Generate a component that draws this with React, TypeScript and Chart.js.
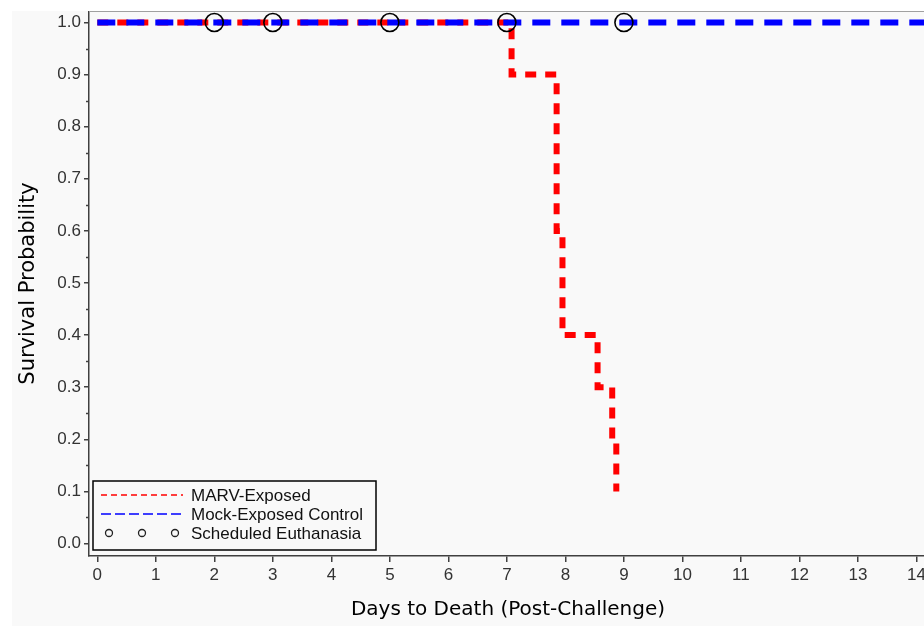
import React, { useEffect, useRef } from "react";
import { Chart, registerables } from "chart.js";

Chart.register(...registerables);

// Kaplan-Meier survival data
const marvDays = [0, 7.08, 7.85, 7.95, 8.55, 8.8, 8.87];
const marvSurvival = [1.0, 0.9, 0.6, 0.4, 0.3, 0.2, 0.1];
const mockDays = [0, 15];
const mockSurvival = [1.0, 1.0];
const euthanasiaDays = [2, 3, 5, 7, 9];
const euthanasiaSurvival = [1.0, 1.0, 1.0, 1.0, 1.0];

const seriesLabels = ["MARV-Exposed", "Mock-Exposed Control", "Scheduled Euthanasia"];
const dayTicks = [0, 1, 2, 3, 4, 5, 6, 7, 8, 9, 10, 11, 12, 13, 14];
const survivalTicks = [0.0, 0.1, 0.2, 0.3, 0.4, 0.5, 0.6, 0.7, 0.8, 0.9, 1.0];
const survivalMinorTicks = [0.05, 0.15, 0.25, 0.35, 0.45, 0.55, 0.65, 0.75, 0.85, 0.95];

const xTitle = "Days to Death (Post-Challenge)";
const yTitle = "Survival Probability";

const RED = "#ff0000";
const BLUE = "#0000ff";
const AXIS = "#404040";
const TICK_TEXT = "#333333";
const SANS = '"Liberation Sans", Arial, sans-serif';
const TITLE_FONT = '"DejaVu Sans", "Liberation Sans", sans-serif';

// Top frame line and minor ticks on the survival axis
const framePlugin = {
  id: "kmFrame",
  afterDraw(chart: any) {
    const { ctx, chartArea, scales } = chart;
    ctx.save();
    ctx.setLineDash([]);
    ctx.strokeStyle = "#a0a0a0";
    ctx.lineWidth = 1;
    ctx.beginPath();
    ctx.moveTo(chartArea.left, chartArea.top + 0.5);
    ctx.lineTo(chartArea.right, chartArea.top + 0.5);
    ctx.stroke();

    ctx.strokeStyle = AXIS;
    ctx.lineWidth = 1.5;
    const y = scales.y;
    survivalMinorTicks.forEach((v) => {
      const py = Math.round(y.getPixelForValue(v)) + 0.5;
      ctx.beginPath();
      ctx.moveTo(chartArea.left - 3, py);
      ctx.lineTo(chartArea.left, py);
      ctx.stroke();
    });
    ctx.restore();
  },
};

// Boxed legend inside the lower-left corner of the plot
const legendPlugin = {
  id: "kmLegend",
  afterDraw(chart: any) {
    const { ctx, chartArea } = chart;
    const w = 283;
    const h = 69;
    const x0 = chartArea.left + 4;
    const y0 = chartArea.bottom - 6 - h;
    const rows = [y0 + 14, y0 + 33, y0 + 52];

    ctx.save();
    ctx.fillStyle = "#f9f9f9";
    ctx.fillRect(x0, y0, w, h);
    ctx.setLineDash([]);
    ctx.strokeStyle = "#000";
    ctx.lineWidth = 1.5;
    ctx.strokeRect(x0, y0, w, h);

    // MARV sample
    ctx.strokeStyle = RED;
    ctx.lineWidth = 1.5;
    ctx.setLineDash([6, 4]);
    ctx.beginPath();
    ctx.moveTo(x0 + 8, rows[0]);
    ctx.lineTo(x0 + 90, rows[0]);
    ctx.stroke();

    // Mock sample
    ctx.strokeStyle = BLUE;
    ctx.setLineDash([10, 4]);
    ctx.beginPath();
    ctx.moveTo(x0 + 8, rows[1]);
    ctx.lineTo(x0 + 90, rows[1]);
    ctx.stroke();

    // Euthanasia markers
    ctx.setLineDash([]);
    ctx.strokeStyle = "#222";
    ctx.lineWidth = 1.3;
    [16, 49, 82].forEach((dx) => {
      ctx.beginPath();
      ctx.arc(x0 + dx, rows[2], 3.5, 0, Math.PI * 2);
      ctx.stroke();
    });

    ctx.fillStyle = "#111";
    ctx.font = `17px ${SANS}`;
    ctx.textAlign = "left";
    ctx.textBaseline = "middle";
    seriesLabels.forEach((label, i) => {
      ctx.fillText(label, x0 + 98, rows[i] + 1);
    });
    ctx.restore();
  },
};

export default function App() {
  const canvasRef = useRef<HTMLCanvasElement | null>(null);

  useEffect(() => {
    const canvas = canvasRef.current;
    if (!canvas) return;

    const chart = new Chart(canvas, {
      type: "line",
      data: {
        datasets: [
          {
            label: seriesLabels[2],
            data: euthanasiaDays.map((d, i) => ({ x: d, y: euthanasiaSurvival[i] })),
            showLine: false,
            pointRadius: 9,
            pointBorderWidth: 1.6,
            pointBorderColor: "#000",
            pointBackgroundColor: "rgba(0,0,0,0)",
            order: 0,
          },
          {
            label: seriesLabels[1],
            data: mockDays.map((d, i) => ({ x: d, y: mockSurvival[i] })),
            borderColor: BLUE,
            borderWidth: 6,
            borderDash: [18, 11],
            borderCapStyle: "butt",
            pointRadius: 0,
            fill: false,
            order: 1,
          },
          {
            label: seriesLabels[0],
            data: marvDays.map((d, i) => ({ x: d, y: marvSurvival[i] })),
            stepped: "before",
            borderColor: RED,
            borderWidth: 6,
            borderDash: [11, 9],
            borderCapStyle: "butt",
            borderJoinStyle: "miter",
            pointRadius: 0,
            fill: false,
            order: 2,
          },
        ],
      },
      options: {
        animation: false,
        responsive: false,
        events: [],
        layout: { padding: 0, autoPadding: false },
        plugins: {
          legend: { display: false },
          tooltip: { enabled: false },
        },
        scales: {
          x: {
            type: "linear",
            min: -0.142,
            max: 14.18,
            afterBuildTicks: (s: any) => {
              s.ticks = dayTicks.map((v) => ({ value: v }));
            },
            afterFit: (s: any) => {
              s.height = 70;
              s.paddingLeft = 0;
              s.paddingRight = 0;
            },
            grid: {
              drawOnChartArea: false,
              drawTicks: true,
              tickLength: 6,
              color: AXIS,
              lineWidth: 1.5,
            },
            border: { display: true, color: AXIS, width: 1.5 },
            ticks: {
              color: TICK_TEXT,
              font: { family: SANS, size: 17 },
              padding: 3,
              maxRotation: 0,
              autoSkip: false,
              callback: (v: any) => String(v),
            },
            title: {
              display: true,
              text: xTitle,
              color: "#000",
              font: { family: TITLE_FONT, size: 20 },
              padding: { top: 0, bottom: 4 },
            },
          },
          y: {
            type: "linear",
            min: -0.024,
            max: 1.022,
            afterBuildTicks: (s: any) => {
              s.ticks = survivalTicks.map((v) => ({ value: v }));
            },
            afterFit: (s: any) => {
              s.width = 77;
              s.paddingTop = 0;
              s.paddingBottom = 0;
            },
            grid: {
              drawOnChartArea: false,
              drawTicks: true,
              tickLength: 5,
              color: AXIS,
              lineWidth: 1.5,
            },
            border: { display: true, color: AXIS, width: 1.5 },
            ticks: {
              color: TICK_TEXT,
              font: { family: SANS, size: 17, lineHeight: 0.01 },
              padding: 3,
              autoSkip: false,
              callback: (v: any) => Number(v).toFixed(1),
            },
            title: {
              display: true,
              text: yTitle,
              color: "#000",
              font: { family: TITLE_FONT, size: 21 },
              padding: { top: 4, bottom: 0 },
            },
          },
        },
      },
      plugins: [framePlugin, legendPlugin],
    } as any);

    return () => chart.destroy();
  }, []);

  return (
    <div
      style={{
        position: "absolute",
        left: 12,
        top: 11,
        width: 912,
        height: 615,
        overflow: "hidden",
        background: "#f9f9f9",
      }}
    >
      <canvas ref={canvasRef} width={915} height={615} style={{ display: "block", width: 915, height: 615 }} />
    </div>
  );
}
